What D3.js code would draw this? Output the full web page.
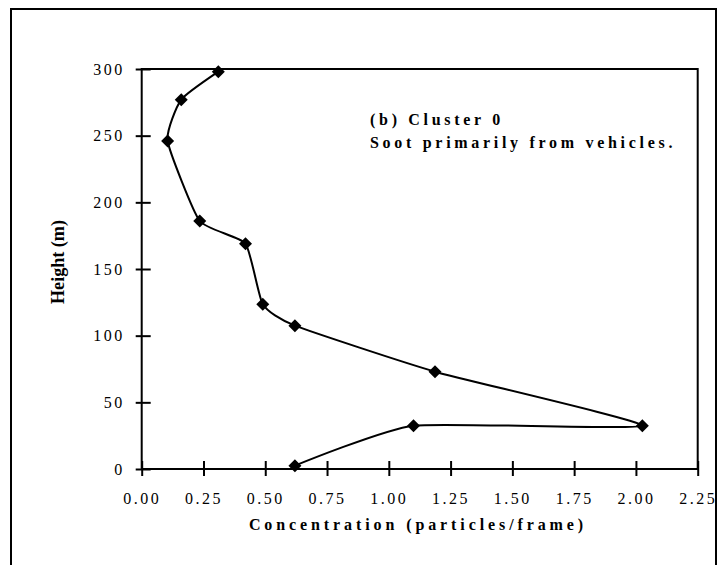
<!DOCTYPE html>
<html>
<script src="https://d3js.org/d3.v7.min.js"></script>
<style>
  body { margin: 0; background: white; }
  text { font-family: "Liberation Serif", "Times New Roman", serif; fill: black; }
</style>
<body>
<svg width="718" height="565"></svg>
<script>
// values, in the order the line visits them
var conc   = [0.31, 0.16, 0.105, 0.235, 0.42, 0.49, 0.62, 1.187, 2.026, 1.10, 0.62];
var height = [298, 277, 246, 186, 169, 123.5, 107.5, 73, 32.5, 32.5, 2.5];
var xTicks = [0, 0.25, 0.5, 0.75, 1, 1.25, 1.5, 1.75, 2, 2.25];
var yTicks = [0, 50, 100, 150, 200, 250, 300];
var note = ["(b) Cluster 0", "Soot primarily from vehicles."];

var svg = d3.select("svg");

// outer frame
svg.append("rect")
  .attr("x", 11).attr("y", 9).attr("width", 705).attr("height", 570)
  .attr("fill", "none").attr("stroke", "black").attr("stroke-width", 2);

var x = d3.scaleLinear().domain([0, 2.25]).range([141.7, 697.7]);
var y = d3.scaleLinear().domain([0, 300]).range([469, 69]);

// plot box
svg.append("rect")
  .attr("x", x(0)).attr("y", y(300))
  .attr("width", x(2.25) - x(0)).attr("height", y(0) - y(300))
  .attr("fill", "none").attr("stroke", "black").attr("stroke-width", 2);

var xAxis = svg.append("g")
  .attr("transform", "translate(0," + y(0) + ")")
  .call(d3.axisBottom(x).tickValues(xTicks).tickFormat(d3.format(".2f")).tickSizeInner(7).tickSizeOuter(0).tickPadding(17));
xAxis.select(".domain").remove();
xAxis.selectAll("line").attr("y1", -8).attr("stroke-width", 2);
xAxis.selectAll("text")
  .style("font-family", "Liberation Serif").style("font-size", "16px").style("letter-spacing", "2.5px");

var yAxis = svg.append("g")
  .attr("transform", "translate(" + x(0) + ",0)")
  .call(d3.axisLeft(y).tickValues(yTicks).tickSizeInner(6).tickSizeOuter(0).tickPadding(11));
yAxis.select(".domain").remove();
yAxis.selectAll("line").attr("x1", 9).attr("stroke-width", 2);
yAxis.selectAll("text")
  .style("font-family", "Liberation Serif").style("font-size", "16px").style("letter-spacing", "2.5px");

// the smoothed line
var pts = conc.map(function(c, i) { return [c, height[i]]; });
var line = d3.line()
  .x(function(d) { return x(d[0]); })
  .y(function(d) { return y(d[1]); })
  .curve(d3.curveCardinal.tension(0.5));

svg.append("path")
  .datum(pts)
  .attr("d", line)
  .attr("fill", "none").attr("stroke", "black").attr("stroke-width", 2);

svg.selectAll(".pt")
  .data(pts)
  .enter()
  .append("path")
    .attr("class", "pt")
    .attr("d", "M0,-6.5L6.5,0L0,6.5L-6.5,0Z")
    .attr("transform", function(d) { return "translate(" + x(d[0]) + "," + y(d[1]) + ")"; })
    .attr("fill", "black");

// axis titles
svg.append("text")
  .attr("x", 418).attr("y", 530)
  .attr("text-anchor", "middle")
  .style("font-size", "16px").style("font-weight", "bold").style("letter-spacing", "3.9px")
  .text("Concentration (particles/frame)");

svg.append("text")
  .attr("transform", "translate(64,262) rotate(-90)")
  .attr("text-anchor", "middle")
  .attr("textLength", 84).attr("lengthAdjust", "spacingAndGlyphs")
  .style("font-size", "19px").style("font-weight", "bold")
  .text("Height (m)");

// note in the corner
svg.selectAll(".note")
  .data(note)
  .enter()
  .append("text")
    .attr("class", "note")
    .attr("x", 370)
    .attr("y", function(d, i) { return 125 + i * 23; })
    .style("font-size", "16px").style("font-weight", "bold").style("letter-spacing", "3.7px")
    .text(function(d) { return d; });
</script>
</body>
</html>
